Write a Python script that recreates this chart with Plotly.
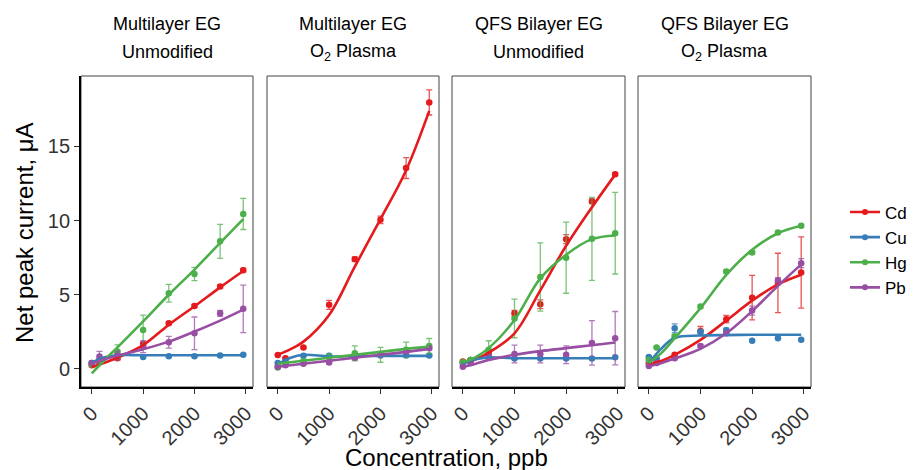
import plotly.graph_objects as go

# ---------------- data ----------------
conc = [0, 150, 500, 1000, 1500, 2000, 2500, 2950]
fit_conc = [0, 250, 500, 1000, 1500, 2000, 2500, 2950]
metals = ["Cd", "Cu", "Hg", "Pb"]
title_line1 = ["Multilayer EG", "Multilayer EG", "QFS Bilayer EG", "QFS Bilayer EG"]
title_line2 = ["Unmodified", "O<sub>2</sub> Plasma", "Unmodified", "O<sub>2</sub> Plasma"]
x_ticks = [0, 1000, 2000, 3000]
y_ticks = [0, 5, 10, 15]

# Panel 1: Multilayer EG, unmodified
mean_p1 = {"Cd": [0.25, 0.45, 0.72, 1.66, 3.08, 4.25, 5.55, 6.66],
           "Cu": [0.40, 0.60, 0.95, 0.80, 0.85, 0.85, 0.90, 0.95],
           "Hg": [0.30, 0.60, 1.17, 2.63, 5.10, 6.40, 8.60, 10.45],
           "Pb": [0.40, 0.83, 0.90, 1.50, 1.80, 2.40, 3.75, 4.05]}
err_p1 = {"Cd": [0.10, 0.15, 0.10, 0.15, 0.10, 0.10, 0.10, 0.12],
          "Cu": [0.05, 0.05, 0.05, 0.05, 0.05, 0.05, 0.05, 0.05],
          "Hg": [0.10, 0.20, 0.45, 1.00, 0.60, 0.45, 1.15, 1.05],
          "Pb": [0.10, 0.35, 0.30, 0.40, 0.40, 1.10, 0.20, 1.60]}
fit_p1 = {"Cd": [0.12, 0.42, 0.75, 1.60, 2.98, 4.22, 5.50, 6.60],
          "Cu": [0.43, 0.78, 0.92, 0.92, 0.92, 0.92, 0.92, 0.92],
          "Hg": [-0.30, 0.60, 1.45, 3.20, 5.00, 6.70, 8.50, 10.10],
          "Pb": [0.35, 0.65, 0.90, 1.33, 1.84, 2.52, 3.26, 4.00]}

# Panel 2: Multilayer EG, O2 plasma
mean_p2 = {"Cd": [0.94, 0.72, 1.44, 4.32, 7.40, 10.05, 13.54, 17.97],
           "Cu": [0.40, 0.50, 0.88, 0.88, 0.85, 0.90, 0.90, 0.90],
           "Hg": [0.10, 0.35, 0.50, 0.80, 1.05, 0.95, 1.30, 1.55],
           "Pb": [0.15, 0.25, 0.35, 0.43, 0.75, 0.95, 1.15, 1.40]}
err_p2 = {"Cd": [0.05, 0.05, 0.05, 0.30, 0.15, 0.25, 0.70, 0.85],
          "Cu": [0.05, 0.05, 0.05, 0.05, 0.05, 0.05, 0.05, 0.05],
          "Hg": [0.05, 0.10, 0.15, 0.20, 0.50, 0.50, 0.50, 0.50],
          "Pb": [0.05, 0.05, 0.05, 0.05, 0.10, 0.10, 0.10, 0.10]}
fit_p2 = {"Cd": [0.95, 1.33, 1.84, 3.64, 6.90, 10.10, 13.40, 17.40],
          "Cu": [0.30, 0.75, 0.95, 0.84, 0.86, 0.88, 0.88, 0.88],
          "Hg": [0.35, 0.45, 0.55, 0.75, 0.95, 1.15, 1.35, 1.50],
          "Pb": [0.15, 0.25, 0.35, 0.55, 0.75, 0.95, 1.15, 1.35]}

# Panel 3: QFS bilayer EG, unmodified
mean_p3 = {"Cd": [0.50, 0.60, 1.00, 3.75, 4.36, 8.75, 11.30, 13.13],
           "Cu": [0.40, 0.60, 0.80, 0.70, 0.70, 0.70, 0.70, 0.78],
           "Hg": [0.45, 0.60, 1.30, 3.40, 6.20, 7.50, 8.77, 9.15],
           "Pb": [0.15, 0.40, 0.80, 1.00, 1.00, 0.95, 1.75, 2.07]}
err_p3 = {"Cd": [0.05, 0.05, 0.10, 0.20, 0.30, 0.30, 0.15, 0.10],
          "Cu": [0.05, 0.05, 0.05, 0.05, 0.05, 0.05, 0.05, 0.05],
          "Hg": [0.05, 0.10, 0.60, 1.30, 2.30, 2.40, 2.80, 2.75],
          "Pb": [0.05, 0.10, 0.20, 0.60, 0.60, 0.60, 1.50, 1.80]}
fit_p3 = {"Cd": [0.40, 0.65, 1.10, 2.40, 5.30, 8.30, 10.90, 13.10],
          "Cu": [0.35, 0.65, 0.78, 0.72, 0.72, 0.72, 0.72, 0.72],
          "Hg": [0.45, 0.80, 1.40, 3.30, 6.10, 7.70, 8.75, 9.00],
          "Pb": [0.12, 0.35, 0.60, 0.95, 1.20, 1.40, 1.60, 1.78]}

# Panel 4: QFS bilayer EG, O2 plasma
mean_p4 = {"Cd": [0.40, 0.50, 0.95, 2.56, 3.35, 4.80, 5.80, 6.50],
           "Cu": [0.80, 0.70, 2.74, 2.50, 2.60, 1.90, 2.07, 1.96],
           "Hg": [0.60, 1.45, 2.20, 4.20, 6.57, 7.85, 9.20, 9.65],
           "Pb": [0.20, 0.40, 0.72, 1.55, 2.40, 3.93, 5.96, 7.13]}
err_p4 = {"Cd": [0.05, 0.05, 0.10, 0.30, 0.25, 1.50, 2.00, 2.40],
          "Cu": [0.05, 0.05, 0.30, 0.10, 0.15, 0.05, 0.05, 0.05],
          "Hg": [0.05, 0.05, 0.10, 0.10, 0.10, 0.10, 0.10, 0.10],
          "Pb": [0.05, 0.05, 0.10, 0.10, 0.10, 0.30, 0.20, 0.30]}
fit_p4 = {"Cd": [0.30, 0.55, 0.95, 1.96, 3.26, 4.60, 5.70, 6.35],
          "Cu": [0.40, 1.40, 2.10, 2.25, 2.28, 2.30, 2.30, 2.30],
          "Hg": [0.40, 1.10, 2.07, 4.10, 6.34, 8.03, 9.15, 9.65],
          "Pb": [0.18, 0.40, 0.70, 1.35, 2.40, 3.90, 5.60, 7.05]}

means = [mean_p1, mean_p2, mean_p3, mean_p4]
errs = [err_p1, err_p2, err_p3, err_p4]
fits = [fit_p1, fit_p2, fit_p3, fit_p4]

# ---------------- style ----------------
colors = {"Cd": "#E41A1C", "Cu": "#377EB8", "Hg": "#4DAF4A", "Pb": "#984EA3"}
err_colors = {"Cd": "rgba(228,26,28,0.75)", "Cu": "rgba(55,126,184,0.75)",
              "Hg": "rgba(77,175,74,0.75)", "Pb": "rgba(152,78,163,0.75)"}
FONT = "Liberation Sans, Arial, sans-serif"

# the page body has an 8px margin, so figure coords = page coords - 8
OFF = 8
W, H = 915 - OFF, 470 - OFF
PL, PR, PT, PB = 81 - OFF, 811 - OFF, 76 - OFF, 387 - OFF
panels_page = [(81, 253), (267, 439), (452, 625), (638, 811)]
pw, ph = PR - PL, PB - PT


def fx(page_x):
    return (page_x - OFF - PL) / pw


def fy(page_y):
    return (PB - (page_y - OFF)) / ph


fig = go.Figure()

for i in range(4):
    xa = "x" if i == 0 else f"x{i+1}"
    ya = "y" if i == 0 else f"y{i+1}"
    for m in metals:
        fig.add_trace(go.Scatter(
            x=conc, y=means[i][m], mode="markers", xaxis=xa, yaxis=ya,
            marker=dict(color=colors[m], size=6.5),
            error_y=dict(type="data", array=errs[i][m], color=err_colors[m],
                         thickness=1.3, width=3),
            showlegend=False, hoverinfo="skip"))
    for m in metals:
        fig.add_trace(go.Scatter(
            x=fit_conc, y=fits[i][m], mode="lines", xaxis=xa, yaxis=ya,
            line=dict(color=colors[m], width=2.6, shape="spline", smoothing=1.0),
            showlegend=False, hoverinfo="skip"))

# legend entries
for m in metals:
    fig.add_trace(go.Scatter(x=[None], y=[None], mode="lines+markers", name=m,
                             line=dict(color=colors[m], width=2.6),
                             marker=dict(color=colors[m], size=6),
                             xaxis="x", yaxis="y"))

layout = dict(
    width=W, height=H,
    margin=dict(l=PL, r=W - PR, t=PT, b=H - PB, pad=0, autoexpand=False),
    plot_bgcolor="white", paper_bgcolor="white",
    font=dict(family=FONT, color="black"),
    showlegend=True,
    legend=dict(x=fx(845), y=fy(250), xanchor="left", yanchor="middle",
                font=dict(size=17, family=FONT, color="black"),
                bgcolor="rgba(0,0,0,0)", borderwidth=0, tracegroupgap=0),
)

shapes = []
annotations = []
for i, (x0, x1) in enumerate(panels_page):
    key = "" if i == 0 else str(i + 1)
    layout["xaxis" + key] = dict(
        domain=[fx(x0), fx(x1)], range=[-210, 3140], anchor="y" + key,
        tickvals=x_ticks, ticktext=[str(v) for v in x_ticks], tickangle=-45,
        ticks="outside", ticklen=5, tickwidth=1.3, tickcolor="#333",
        showline=True, linecolor="black", linewidth=1.8,
        showgrid=False, zeroline=False,
        tickfont=dict(size=20, family=FONT, color="#333"))
    layout["yaxis" + key] = dict(
        domain=[0, 1], range=[-1.22, 19.75], anchor="x" + key,
        tickvals=y_ticks, showticklabels=(i == 0),
        ticks="outside" if i == 0 else "", ticklen=5, tickwidth=1.3, tickcolor="#333",
        showline=(i == 0), linecolor="black", linewidth=1.8,
        showgrid=False, zeroline=False,
        tickfont=dict(size=20, family=FONT, color="#333"))
    shapes.append(dict(type="rect", xref=f"x{key} domain", yref=f"y{key} domain",
                       x0=0, x1=1, y0=0, y1=1,
                       line=dict(color="#444", width=1), layer="below"))
    cx = fx((x0 + x1) / 2)
    annotations.append(dict(text=title_line1[i], x=cx, y=fy(24), xref="paper", yref="paper",
                            xanchor="center", yanchor="middle", showarrow=False,
                            font=dict(size=18, family=FONT, color="black")))
    annotations.append(dict(text=title_line2[i], x=cx, y=fy(52), xref="paper", yref="paper",
                            xanchor="center", yanchor="middle", showarrow=False,
                            font=dict(size=18, family=FONT, color="black")))

annotations.append(dict(text="Net peak current, μA", x=fx(24), y=fy(233), xref="paper",
                        yref="paper", xanchor="center", yanchor="middle", textangle=-90,
                        showarrow=False, font=dict(size=24, family=FONT, color="black")))
annotations.append(dict(text="Concentration, ppb", x=fx(446), y=fy(457), xref="paper",
                        yref="paper", xanchor="center", yanchor="middle",
                        showarrow=False, font=dict(size=24, family=FONT, color="black")))

layout["shapes"] = shapes
layout["annotations"] = annotations
fig.update_layout(**layout)

fig.write_html("out.html")
